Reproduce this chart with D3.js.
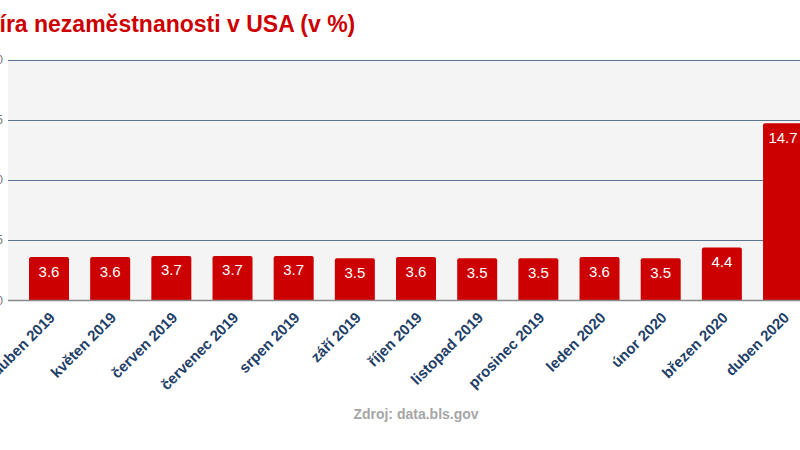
<!DOCTYPE html>
<html>
<head>
<meta charset="utf-8">
<script src="https://cdn.jsdelivr.net/npm/d3@7"></script>
<style>
  html, body { margin: 0; padding: 0; background: #ffffff; }
  svg { display: block; font-family: "Liberation Sans", Arial, sans-serif; }
</style>
</head>
<body>
<svg id="chart" width="800" height="450"></svg>
<script>
const titleText = "Míra nezaměstnanosti v USA (v %)";
const sourceText = "Zdroj: data.bls.gov";
const categories = ["duben 2019", "květen 2019", "červen 2019", "červenec 2019", "srpen 2019", "září 2019", "říjen 2019", "listopad 2019", "prosinec 2019", "leden 2020", "únor 2020", "březen 2020", "duben 2020"];
const values = [3.6, 3.6, 3.7, 3.7, 3.7, 3.5, 3.6, 3.5, 3.5, 3.6, 3.5, 4.4, 14.7];
const yTicks = [0, 5, 10, 15, 20];

const svg = d3.select("#chart");
const plot = { left: 8, right: 800, top: 59.5, bottom: 300.5 };

const y = d3.scaleLinear().domain([0, 20]).range([plot.bottom, plot.top]);
const step = 61.17;
const x = d3.scaleBand().domain(categories)
  .range([49 - step / 2, 49 - step / 2 + step * categories.length])
  .paddingInner(0.346).paddingOuter(0.173);

// plot background
svg.append("rect")
  .attr("x", plot.left).attr("y", plot.top)
  .attr("width", plot.right - plot.left).attr("height", plot.bottom - plot.top)
  .attr("fill", "#f4f4f5");

// gridlines
svg.append("g").selectAll("line").data(yTicks.filter(d => d > 0)).join("line")
  .attr("x1", plot.left).attr("x2", plot.right)
  .attr("y1", d => Math.round(y(d)) + 0.5).attr("y2", d => Math.round(y(d)) + 0.5)
  .attr("stroke", "#5b7491").attr("stroke-width", 1.2);

// y tick labels (mostly cropped by the left edge, as in the reference)
svg.append("g").selectAll("text").data(yTicks).join("text")
  .attr("x", 3).attr("y", d => y(d) + 4)
  .attr("text-anchor", "end")
  .attr("font-size", 12).attr("fill", "#777")
  .text(d => d);

// title (the first letter falls outside the left edge, as in the reference)
const title = svg.append("text")
  .attr("y", 32)
  .attr("font-size", 23).attr("font-weight", "bold").attr("fill", "#cc0000");
title.append("tspan").attr("class", "first").text(titleText.slice(0, 1));
title.append("tspan").text(titleText.slice(1));
const firstW = title.select("tspan.first").node().getComputedTextLength();
title.attr("x", -firstW - 0.5);

// bars with slightly rounded tops
const r = 2;
svg.append("g").selectAll("path").data(values).join("path")
  .attr("d", (d, i) => {
    const x0 = x(categories[i]), w = x.bandwidth();
    const yt = y(d), yb = y(0);
    return `M${x0},${yb}V${yt + r}Q${x0},${yt} ${x0 + r},${yt}H${x0 + w - r}Q${x0 + w},${yt} ${x0 + w},${yt + r}V${yb}Z`;
  })
  .attr("fill", "#cc0000");

// baseline
svg.append("line")
  .attr("x1", plot.left).attr("x2", plot.right)
  .attr("y1", plot.bottom).attr("y2", plot.bottom)
  .attr("stroke", "#8a8a8a").attr("stroke-width", 1.5);

// data labels
svg.append("g").selectAll("text").data(values).join("text")
  .attr("x", (d, i) => x(categories[i]) + x.bandwidth() / 2)
  .attr("y", d => y(d) + 19.5)
  .attr("text-anchor", "middle")
  .attr("font-size", 15).attr("fill", "#ffffff")
  .text(d => d.toFixed(1));

// x labels rotated
svg.append("g").selectAll("text").data(categories).join("text")
  .attr("transform", d => `translate(${x(d) + x.bandwidth() / 2 + 7},${plot.bottom + 18}) rotate(-45)`)
  .attr("text-anchor", "end")
  .attr("font-size", 15).attr("font-weight", "bold").attr("fill", "#1f4068")
  .text(d => d);

// source
svg.append("text")
  .attr("x", 416).attr("y", 419)
  .attr("text-anchor", "middle")
  .attr("font-size", 14).attr("font-weight", "bold").attr("fill", "#a6a6a6")
  .text(sourceText);
</script>
</body>
</html>
